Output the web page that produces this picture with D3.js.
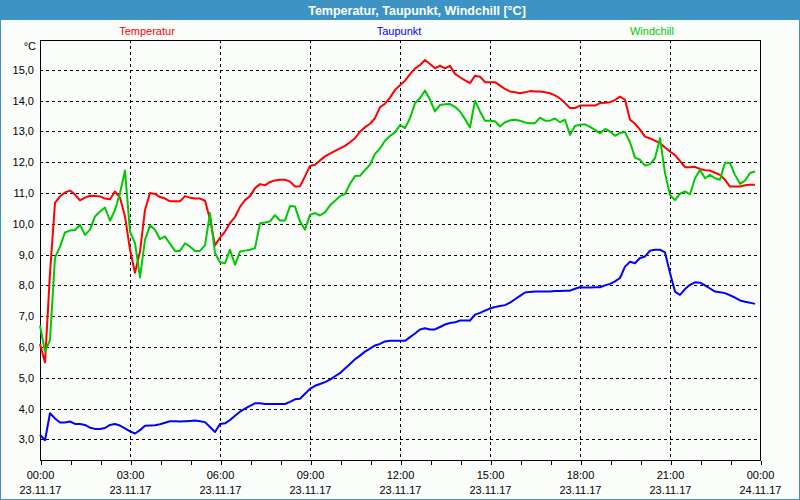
<!DOCTYPE html>
<html><head><meta charset="utf-8">
<script src="https://cdn.jsdelivr.net/npm/d3@7"></script>
<style>
html,body{margin:0;padding:0;background:#fff;}
svg{display:block;font-family:"Liberation Sans",Arial,sans-serif;}
</style></head>
<body><svg id="c" width="800" height="500"></svg>
<script>
const title = "Temperatur, Taupunkt, Windchill [°C]";
const unitLabel = "°C";
// time of each sample in minutes after 23.11.17 00:00 (10-minute steps)
const minutes = d3.range(0, 1440, 10);
const xTickHours = [0, 3, 6, 9, 12, 15, 18, 21, 24];
const xTickTimes = ["00:00","03:00","06:00","09:00","12:00","15:00","18:00","21:00","00:00"];
const xTickDates = ["23.11.17","23.11.17","23.11.17","23.11.17","23.11.17","23.11.17","23.11.17","23.11.17","24.11.17"];
const yTicks = [3,4,5,6,7,8,9,10,11,12,13,14,15];
const seriesNames = ["Temperatur","Taupunkt","Windchill"];
const seriesColors = ["#ff0000","#0000ff","#00c800"];

const temperatur = [
6.1,5.5,8.4,10.68,10.89,11.02,11.08,10.95,10.76,10.85,10.91,10.9,10.89,10.82,10.8,11.05,
10.85,10.24,9.16,8.41,9.1,10.45,11.0,10.97,10.87,10.82,10.73,10.73,10.73,10.9,10.85,10.82,
10.82,10.75,10.15,9.3,9.55,9.75,10.03,10.22,10.55,10.77,10.9,11.16,11.29,11.25,11.36,11.41,
11.43,11.43,11.37,11.21,11.22,11.54,11.88,11.92,12.06,12.19,12.28,12.37,12.45,12.53,12.65,12.78,
12.99,13.14,13.25,13.43,13.79,13.9,14.1,14.35,14.5,14.65,14.86,15.04,15.16,15.32,15.19,15.05,
15.14,15.05,15.13,14.87,14.76,14.66,14.57,14.81,14.78,14.6,14.6,14.6,14.49,14.38,14.3,14.27,
14.24,14.27,14.31,14.3,14.3,14.27,14.24,14.17,14.07,13.92,13.76,13.76,13.84,13.84,13.84,13.84,
13.92,13.93,13.95,14.02,14.13,14.03,13.38,13.25,13.06,12.83,12.77,12.7,12.62,12.48,12.35,12.23,
12.04,11.84,11.84,11.85,11.78,11.74,11.73,11.66,11.59,11.43,11.21,11.21,11.21,11.25,11.27,11.27];

const taupunkt = [
3.15,2.97,3.85,3.68,3.55,3.55,3.58,3.5,3.5,3.47,3.38,3.34,3.34,3.37,3.47,3.5,
3.45,3.36,3.26,3.19,3.3,3.44,3.45,3.46,3.49,3.54,3.59,3.59,3.58,3.59,3.6,3.61,
3.59,3.56,3.4,3.24,3.5,3.52,3.63,3.77,3.9,4.0,4.09,4.17,4.17,4.15,4.15,4.15,
4.15,4.15,4.22,4.3,4.32,4.48,4.64,4.74,4.8,4.86,4.94,5.05,5.15,5.3,5.45,5.6,
5.72,5.85,5.95,6.05,6.1,6.18,6.2,6.2,6.2,6.2,6.32,6.44,6.57,6.61,6.57,6.57,
6.65,6.73,6.78,6.8,6.86,6.86,6.86,7.05,7.11,7.18,7.25,7.3,7.33,7.36,7.44,7.55,
7.66,7.77,7.79,7.8,7.8,7.8,7.8,7.82,7.82,7.83,7.83,7.89,7.94,7.93,7.93,7.94,
7.94,8.0,8.05,8.13,8.24,8.61,8.77,8.72,8.89,8.94,9.13,9.16,9.16,9.07,8.4,7.8,
7.69,7.88,8.02,8.1,8.09,8.0,7.9,7.8,7.78,7.75,7.68,7.6,7.51,7.47,7.44,7.4];

const windchill = [
6.7,5.85,6.23,8.9,9.26,9.72,9.78,9.8,9.97,9.64,9.81,10.24,10.4,10.53,10.1,10.45,
11.0,11.73,9.75,9.37,8.26,9.48,9.95,9.81,9.5,9.59,9.35,9.12,9.12,9.37,9.26,9.12,
9.12,9.3,10.35,9.05,8.75,8.72,9.16,8.67,9.1,9.13,9.16,9.21,10.02,10.04,10.08,10.28,
10.11,10.11,10.58,10.56,10.08,9.81,10.29,10.35,10.27,10.37,10.6,10.75,10.9,10.97,11.3,11.55,
11.56,11.75,11.92,12.27,12.45,12.7,12.85,12.97,13.21,13.11,13.43,13.92,14.08,14.33,14.03,13.65,
13.86,13.88,13.89,13.8,13.65,13.4,13.13,14.0,13.65,13.35,13.35,13.33,13.16,13.3,13.36,13.38,
13.35,13.29,13.27,13.27,13.45,13.35,13.35,13.42,13.3,13.38,12.89,13.18,13.22,13.23,13.15,13.05,
12.94,13.08,13.0,12.86,12.95,12.98,12.65,12.15,12.08,11.89,11.94,12.13,12.78,11.65,10.94,10.77,
10.98,11.05,10.96,11.48,11.75,11.48,11.59,11.48,11.43,11.99,11.97,11.59,11.3,11.4,11.65,11.7];

const series = [temperatur, taupunkt, windchill];

const W = 800, H = 500;
const plot = {left: 40, right: 760, top: 40, bottom: 460};
const svg = d3.select("#c");

// background and frame
svg.append("rect").attr("x",0).attr("y",0).attr("width",W).attr("height",H).attr("fill","#3c93c4");
svg.append("rect").attr("x",1).attr("y",20).attr("width",W-2).attr("height",H-21).attr("fill","#fbfdfb");

svg.append("text").attr("x",417).attr("y",14.5).attr("text-anchor","middle")
  .attr("fill","#ffffff").attr("font-weight","bold").attr("font-size","12.5px").text(title);

const x = d3.scaleLinear().domain([0,24]).range([plot.left, plot.right]);
const y = d3.scaleLinear().domain([2.33,15.97]).range([plot.bottom, plot.top]);

// grid
const g = svg.append("g").attr("shape-rendering","crispEdges");
g.selectAll(".hg").data(yTicks).join("line")
  .attr("x1",plot.left).attr("x2",plot.right)
  .attr("y1",d=>Math.round(y(d))+0.5).attr("y2",d=>Math.round(y(d))+0.5)
  .attr("stroke","#000").attr("stroke-dasharray","3,3");
g.selectAll(".vg").data(xTickHours.slice(1,-1)).join("line")
  .attr("y1",plot.top).attr("y2",plot.bottom)
  .attr("x1",d=>Math.round(x(d))+0.5).attr("x2",d=>Math.round(x(d))+0.5)
  .attr("stroke","#000").attr("stroke-dasharray","3,3");

// frame
g.append("rect").attr("x",plot.left+0.5).attr("y",plot.top+0.5)
  .attr("width",plot.right-plot.left).attr("height",plot.bottom-plot.top)
  .attr("fill","none").attr("stroke","#000");

// x axis (hourly ticks)
const xAxis = d3.axisBottom(x).tickValues(d3.range(0,25)).tickSize(4).tickFormat("");
const xa = svg.append("g").attr("transform",`translate(0.5,${plot.bottom+0.5})`).call(xAxis);
xa.select(".domain").remove();
xa.selectAll("line").attr("stroke","#000").attr("shape-rendering","crispEdges");

const lab = svg.append("g").attr("font-size","11px").attr("fill","#000");
lab.selectAll(".xt").data(xTickHours).join("text")
  .attr("x",d=>x(d)+0.5).attr("y",479).attr("text-anchor","middle").text((d,i)=>xTickTimes[i]);
lab.selectAll(".xd").data(xTickHours).join("text")
  .attr("x",d=>x(d)+0.5).attr("y",494).attr("text-anchor","middle").text((d,i)=>xTickDates[i]);

// y labels
lab.selectAll(".yt").data(yTicks).join("text")
  .attr("x",34).attr("y",d=>y(d)+4).attr("text-anchor","end")
  .text(d=>d3.format(".1f")(d).replace(".",","));
lab.append("text").attr("x",36).attr("y",50).attr("text-anchor","end").text(unitLabel);

// legend
const legendX = [147, 399, 652];
svg.append("g").attr("font-size","11px").selectAll("text").data(seriesNames).join("text")
  .attr("x",(d,i)=>legendX[i]).attr("y",35).attr("text-anchor","middle")
  .attr("fill",(d,i)=>seriesColors[i]).text(d=>d);

// lines
const line = d3.line().x((d,i)=>x(minutes[i]/60)).y(d=>y(d));
svg.append("g").selectAll("path").data(series).join("path")
  .attr("d",d=>line(d)).attr("fill","none")
  .attr("stroke",(d,i)=>seriesColors[i]).attr("stroke-width",2).attr("stroke-linejoin","round");
</script>
</body></html>
